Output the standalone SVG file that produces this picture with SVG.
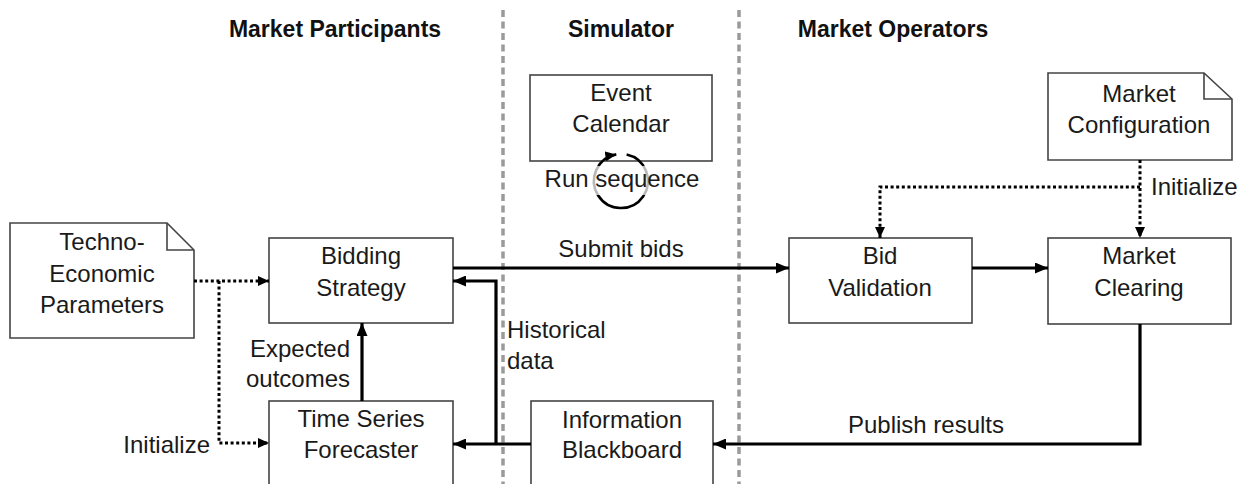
<svg xmlns="http://www.w3.org/2000/svg" width="1244" height="484" viewBox="0 0 1244 484">
  <defs>
    <marker id="arrow" markerUnits="userSpaceOnUse" markerWidth="14" markerHeight="11" refX="13" refY="5.5" orient="auto">
      <path d="M0,0 L13,5.5 L0,11 Z" fill="#000"/>
    </marker>
    <marker id="arrow-small" markerUnits="userSpaceOnUse" markerWidth="12" markerHeight="10" refX="11" refY="5" orient="auto">
      <path d="M0,0 L11,5 L0,10 Z" fill="#000"/>
    </marker>
  </defs>
  <style>
    .box { fill: #fff; stroke: #444; stroke-width: 1.6; }
    .fold { fill: none; stroke: #444; stroke-width: 1.6; }
    .lbl { font-family: "Liberation Sans", Arial, sans-serif; font-size: 24px; fill: #1a1a1a; }
    .mid { text-anchor: middle; }
    .head { font-family: "Liberation Sans", Arial, sans-serif; font-size: 23px; font-weight: bold; fill: #111; text-anchor: middle; }
    .lane { stroke: #9a9a9a; stroke-width: 3.5; stroke-dasharray: 7 4.5; fill: none; }
    .solid { fill: none; stroke: #000; stroke-width: 3.2; }
    .dotted { fill: none; stroke: #000; stroke-width: 3; stroke-dasharray: 3 2.6; }
  </style>

  <rect width="1244" height="484" fill="#fff"/>

  <!-- swimlane separators -->
  <g id="lanes">
    <line class="lane" x1="503" y1="10" x2="503" y2="484"/>
    <line class="lane" x1="739" y1="10" x2="739" y2="484"/>
  </g>

  <!-- column headings -->
  <g id="headings">
    <text class="head" x="335" y="37">Market Participants</text>
    <text class="head" x="621" y="37">Simulator</text>
    <text class="head" x="893" y="37">Market Operators</text>
  </g>

  <!-- nodes -->
  <g id="techno-economic">
    <path class="box" d="M10,223 H167 L194,250 V338 H10 Z"/>
    <path class="fold" d="M167,223 V250 H194"/>
    <text class="lbl mid" x="102" y="250">Techno-</text>
    <text class="lbl mid" x="102" y="282">Economic</text>
    <text class="lbl mid" x="102" y="313">Parameters</text>
  </g>

  <g id="bidding-strategy">
    <rect class="box" x="269" y="238" width="184" height="85"/>
    <text class="lbl mid" x="361" y="264">Bidding</text>
    <text class="lbl mid" x="361" y="296">Strategy</text>
  </g>

  <g id="time-series-forecaster">
    <rect class="box" x="269" y="401" width="184" height="95"/>
    <text class="lbl mid" x="361" y="427">Time Series</text>
    <text class="lbl mid" x="361" y="458">Forecaster</text>
  </g>

  <g id="event-calendar">
    <rect class="box" x="530" y="75" width="182" height="86"/>
    <text class="lbl mid" x="621" y="101">Event</text>
    <text class="lbl mid" x="621" y="132">Calendar</text>
  </g>

  <g id="information-blackboard">
    <rect class="box" x="531" y="401" width="182" height="95"/>
    <text class="lbl mid" x="622" y="428">Information</text>
    <text class="lbl mid" x="622" y="458">Blackboard</text>
  </g>

  <g id="market-configuration">
    <path class="box" d="M1048,73 H1204 L1232,99 V160 H1048 Z"/>
    <path class="fold" d="M1204,73 V99 H1232"/>
    <text class="lbl mid" x="1139" y="102">Market</text>
    <text class="lbl mid" x="1139" y="133">Configuration</text>
  </g>

  <g id="bid-validation">
    <rect class="box" x="789" y="238" width="183" height="85"/>
    <text class="lbl mid" x="880" y="264">Bid</text>
    <text class="lbl mid" x="880" y="296">Validation</text>
  </g>

  <g id="market-clearing">
    <rect class="box" x="1048" y="238" width="183" height="86"/>
    <text class="lbl mid" x="1139" y="264">Market</text>
    <text class="lbl mid" x="1139" y="296">Clearing</text>
  </g>

  <!-- connectors -->
  <g id="connectors">
    <!-- initialisation from techno-economic parameters -->
    <path class="dotted" d="M194,281 H269" marker-end="url(#arrow-small)"/>
    <path class="dotted" d="M219,281 V443 H269" marker-end="url(#arrow-small)"/>
    <!-- forecaster to bidding strategy -->
    <path class="solid" d="M362,401 V323" marker-end="url(#arrow)"/>
    <!-- bids to validation -->
    <path class="solid" d="M453,268 H789" marker-end="url(#arrow)"/>
    <!-- blackboard to forecaster and bidding strategy -->
    <path class="solid" d="M531,444 H453" marker-end="url(#arrow)"/>
    <path class="solid" d="M496,444 V281 H453" marker-end="url(#arrow)"/>
    <!-- validation to clearing -->
    <path class="solid" d="M972,268 H1048" marker-end="url(#arrow)"/>
    <!-- market configuration initialisation -->
    <path class="dotted" d="M1140,160 V238" marker-end="url(#arrow-small)"/>
    <path class="dotted" d="M1140,187 H880 V238" marker-end="url(#arrow-small)"/>
    <!-- results published to blackboard -->
    <path class="solid" d="M1140,324 V444 H713" marker-end="url(#arrow)"/>
    <!-- run sequence loop -->
    <path fill="none" stroke="#000" stroke-width="2.6" d="M626.6,154.6 A27,27 0 1 1 616.3,154.4" marker-end="url(#arrow-small)"/>
    <rect x="545" y="166" width="154" height="29" fill="#fff" fill-opacity="0.72"/>
  </g>

  <!-- connector labels -->
  <g id="connector-labels">
    <text class="lbl" x="210" y="453" text-anchor="end">Initialize</text>
    <text class="lbl" x="350" y="357" text-anchor="end">Expected</text>
    <text class="lbl" x="350" y="387" text-anchor="end">outcomes</text>
    <text class="lbl mid" x="621" y="257">Submit bids</text>
    <text class="lbl" x="507" y="338">Historical</text>
    <text class="lbl" x="507" y="369">data</text>
    <text class="lbl mid" x="622" y="187">Run sequence</text>
    <text class="lbl" x="1151" y="195">Initialize</text>
    <text class="lbl mid" x="926" y="433">Publish results</text>
  </g>
</svg>
